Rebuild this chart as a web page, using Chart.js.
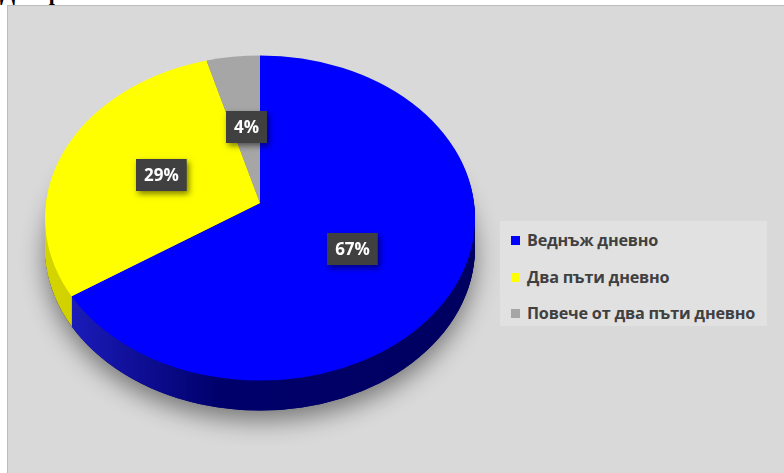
<!DOCTYPE html>
<html>
<head>
<meta charset="utf-8">
<script src="https://cdn.jsdelivr.net/npm/chart.js@4.4.0/dist/chart.umd.min.js"></script>
<style>
  html, body { margin: 0; padding: 0; background: #fff; width: 784px; height: 473px; overflow: hidden; }
  #title { position: absolute; left: 0; top: -20px; font: bold 22px "Liberation Serif", serif; color: #000; white-space: nowrap; }
  #panel { position: absolute; left: 7px; top: 5px; width: 800px; height: 480px; background: #d9d9d9; border: 1px solid #bcbcbc; }
  #pie { position: absolute; left: 0; top: 0; }
  #legend { position: absolute; left: 500px; top: 221px; width: 267px; height: 105px; background: #e1e1e1; }
  .item { position: absolute; left: 11px; height: 20px; line-height: 20px; font: bold 16.2px "Open Sans", sans-serif; color: #404040; white-space: nowrap; letter-spacing: -0.2px; }
  .item i { display: inline-block; width: 9px; height: 9px; margin-right: 7px; vertical-align: 1px; }
</style>
</head>
<body>
<div id="title">Диаграма 4: Честота на миене на зъбите</div>
<div id="panel"></div>
<canvas id="pie" width="784" height="473"></canvas>
<div id="legend"></div>

<script>
const categories = ["Веднъж дневно", "Два пъти дневно", "Повече от два пъти дневно"];
const shares = [67, 29, 4];

const topColors = ["#0000ff", "#ffff00", "#a6a6a6"];
const sideColors = [["#2020c8", "#00006c", "#000060"], ["#d4d400", "#c4c400", "#b0b000"], ["#8c8c8c", "#7a7a7a", "#6c6c6c"]];

const TILT = 0.756;   // vertical squash of the top face
const DEPTH = 30;     // thickness of the pie
const LIFT = 15;      // apex sits a bit above the ellipse centre (perspective)

// legend
const legendBox = document.getElementById("legend");
categories.forEach((name, i) => {
  const row = document.createElement("div");
  row.className = "item";
  row.style.top = (8 + i * 36.5) + "px";
  row.innerHTML = '<i style="background:' + topColors[i] + '"></i>' + name;
  legendBox.appendChild(row);
});

function slicePath(ctx, arc, cx, cy, rx, ry) {
  ctx.beginPath();
  ctx.moveTo(cx, cy - LIFT);
  ctx.ellipse(cx, cy, rx, ry, 0, arc.startAngle, arc.endAngle);
  ctx.closePath();
}

const pie3d = {
  id: "pie3d",
  beforeDatasetsDraw(chart) {
    const ctx = chart.ctx;
    const arcs = chart.getDatasetMeta(0).data;
    const cx = arcs[0].x, cy = arcs[0].y, rx = arcs[0].outerRadius;
    const ry = rx * TILT;

    // drop shadow under the whole pie
    ctx.save();
    ctx.shadowColor = "rgba(0,0,0,0.45)";
    ctx.shadowBlur = 24;
    ctx.shadowOffsetY = 10;
    ctx.fillStyle = "#00006a";
    ctx.beginPath();
    ctx.ellipse(cx, cy + DEPTH, rx, ry, 0, 0, Math.PI * 2);
    ctx.fill();
    ctx.restore();

    const fills = sideColors.map((c) => {
      const g = ctx.createLinearGradient(cx - rx, 0, cx + rx, 0);
      g.addColorStop(0, c[0]);
      g.addColorStop(0.4, c[1]);
      g.addColorStop(1, c[2]);
      return g;
    });

    // side walls
    for (let d = DEPTH; d > 0; d--) {
      arcs.forEach((arc, i) => {
        ctx.fillStyle = fills[i];
        slicePath(ctx, arc, cx, cy + d, rx, ry);
        ctx.fill();
      });
    }

    // top face
    arcs.forEach((arc, i) => {
      ctx.fillStyle = arc.options.backgroundColor;
      slicePath(ctx, arc, cx, cy, rx, ry);
      ctx.fill();
    });
    return false;
  },
  afterDraw(chart) {
    const ctx = chart.ctx;
    const arcs = chart.getDatasetMeta(0).data;
    const cx = arcs[0].x, cy = arcs[0].y, rx = arcs[0].outerRadius;
    const ry = rx * TILT;
    const total = shares.reduce((a, b) => a + b, 0);

    ctx.font = 'bold 17px "Open Sans", sans-serif';
    ctx.textAlign = "center";
    ctx.textBaseline = "middle";
    arcs.forEach((arc, i) => {
      const mid = (arc.startAngle + arc.endAngle) / 2;
      const lx = (cx + cx + rx * Math.cos(mid)) / 2;
      const ly = (cy - LIFT + cy + ry * Math.sin(mid)) / 2 - 3;
      const text = Math.round(shares[i] / total * 100) + "%";
      const w = ctx.measureText(text).width + 16, h = 32;

      ctx.save();
      ctx.shadowColor = "rgba(0,0,0,0.5)";
      ctx.shadowBlur = 6;
      ctx.shadowOffsetX = 2;
      ctx.shadowOffsetY = 3;
      ctx.fillStyle = "#404040";
      ctx.fillRect(Math.round(lx - w / 2), Math.round(ly - h / 2), w, h);
      ctx.restore();

      ctx.fillStyle = "#ffffff";
      ctx.fillText(text, lx, ly + 1);
    });
  }
};

new Chart(document.getElementById("pie"), {
  type: "pie",
  data: {
    labels: categories,
    datasets: [{
      data: shares,
      backgroundColor: topColors,
      borderWidth: 0,
      hoverOffset: 0
    }]
  },
  options: {
    responsive: false,
    animation: false,
    devicePixelRatio: 1,
    layout: { padding: { left: 45, right: 309, top: 3, bottom: 40 } },
    plugins: {
      legend: { display: false },
      tooltip: { enabled: false }
    }
  },
  plugins: [pie3d]
});
</script>
</body>
</html>
